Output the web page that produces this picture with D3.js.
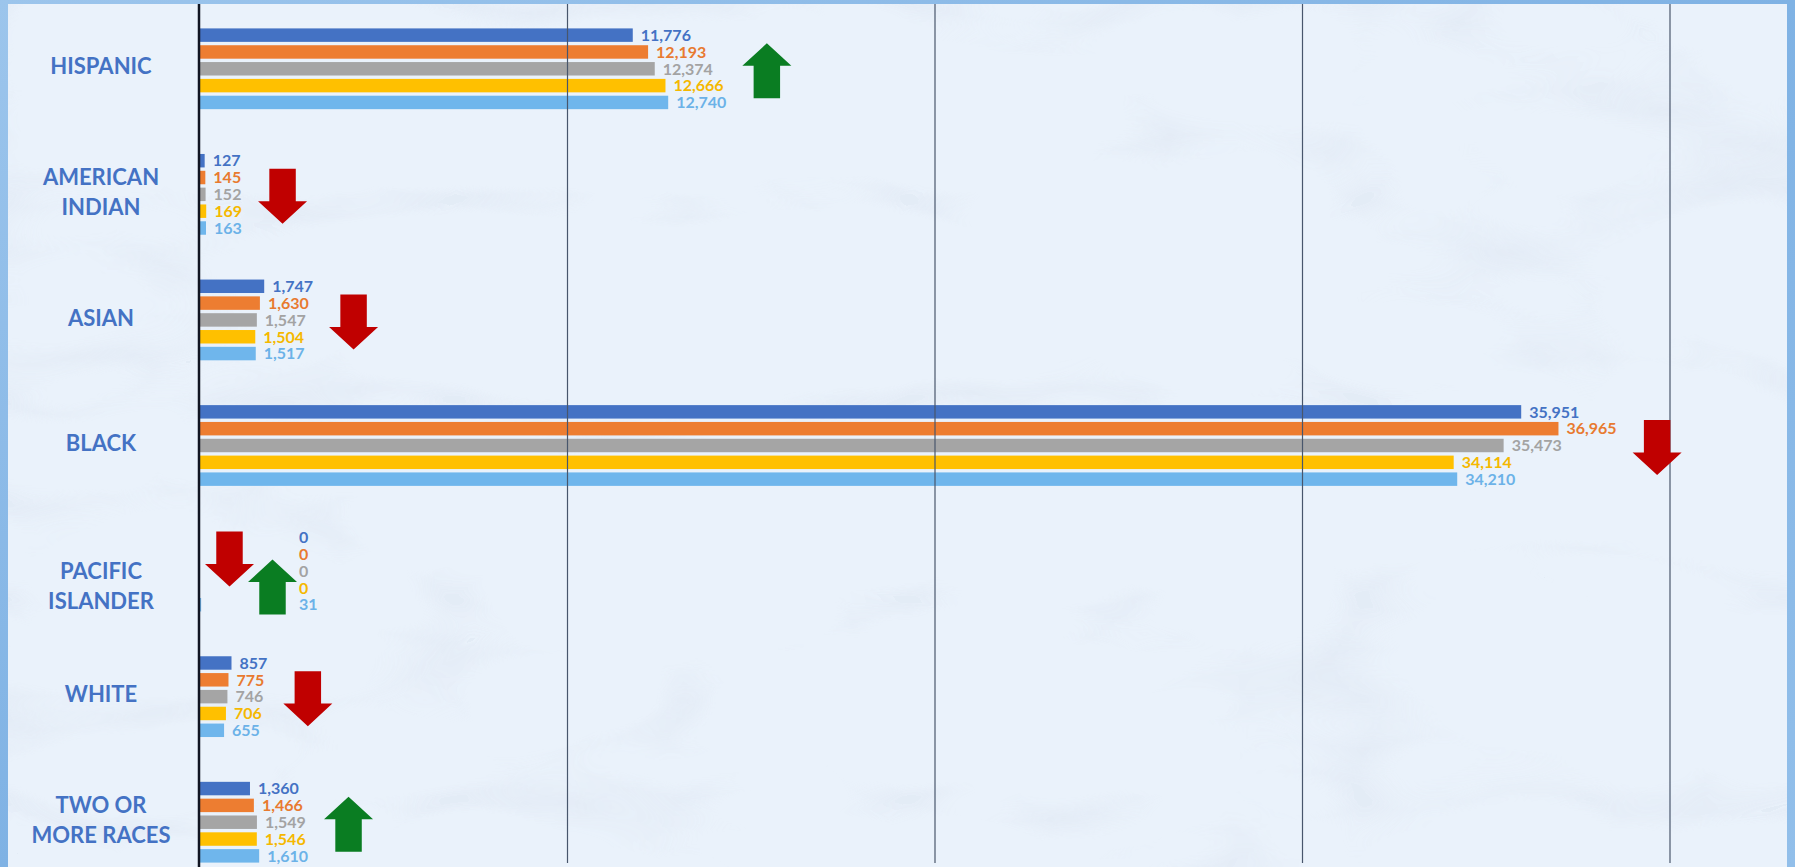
<!DOCTYPE html>
<html>
<head>
<meta charset="utf-8">
<script src="https://cdn.jsdelivr.net/npm/d3@7"></script>
<style>
  html, body { margin: 0; padding: 0; background: #88b8e8; overflow: hidden; }
  svg { display: block; }
</style>
</head>
<body>
<div id="chart"></div>
<script>
// categories, one per group of bars ("\n" splits the label onto two lines)
const categories = ["HISPANIC", "AMERICAN\nINDIAN", "ASIAN", "BLACK", "PACIFIC\nISLANDER", "WHITE", "TWO OR\nMORE RACES"];

// five series (one per year, oldest first)
const series1 = [11776, 127, 1747, 35951, 0, 857, 1360];
const series2 = [12193, 145, 1630, 36965, 0, 775, 1466];
const series3 = [12374, 152, 1547, 35473, 0, 746, 1549];
const series4 = [12666, 169, 1504, 34114, 0, 706, 1546];
const series5 = [12740, 163, 1517, 34210, 31, 655, 1610];

// trend arrow(s) shown next to each group
const trends = [["up"], ["down"], ["down"], ["down"], ["down", "up"], ["down"], ["up"]];

// vertical grid lines
const gridTicks = [10000, 20000, 30000, 40000];

const seriesList = [series1, series2, series3, series4, series5];
const barColors = ["#4472c4", "#ed7d31", "#a5a5a5", "#ffc000", "#6fb6ec"];
const labelColors = ["#4472c4", "#e87a30", "#a3a3a3", "#f5b800", "#6cb2e8"];

const width = 1795, height = 867;

const svg = d3.select("#chart")
  .append("svg")
  .attr("width", width)
  .attr("height", height);

// background: blue frame with a pale marbled panel
const defs = svg.append("defs");
const marble = defs.append("filter")
  .attr("id", "marble")
  .attr("x", 0).attr("y", 0).attr("width", "100%").attr("height", "100%");
marble.append("feTurbulence")
  .attr("type", "turbulence")
  .attr("baseFrequency", "0.0022 0.005")
  .attr("numOctaves", 3)
  .attr("seed", 5)
  .attr("result", "noise");
marble.append("feColorMatrix")
  .attr("in", "noise")
  .attr("type", "matrix")
  .attr("values", "0 0 0 0 0.70  0 0 0 0 0.76  0 0 0 0 0.86  -2.2 0 0 0 0.45");

const frame = defs.append("linearGradient").attr("id", "frame")
  .attr("x1", 0).attr("y1", 0).attr("x2", 1).attr("y2", 1);
frame.append("stop").attr("offset", "0%").attr("stop-color", "#9cc5ec");
frame.append("stop").attr("offset", "50%").attr("stop-color", "#7fb2e4");
frame.append("stop").attr("offset", "100%").attr("stop-color", "#92bfea");

svg.append("rect").attr("width", width).attr("height", height).attr("fill", "url(#frame)");

const panel = { x: 8, y: 4, w: 1779, h: 870 };
svg.append("rect")
  .attr("x", panel.x).attr("y", panel.y)
  .attr("width", panel.w).attr("height", panel.h)
  .attr("fill", "#eaf2fb");
svg.append("rect")
  .attr("x", panel.x).attr("y", panel.y)
  .attr("width", panel.w).attr("height", panel.h)
  .attr("filter", "url(#marble)")
  .attr("opacity", 0.85);

// scales
const x = d3.scaleLinear()
  .domain([0, 40000])
  .range([200, 1670]);

const y0 = d3.scaleBand()
  .domain(d3.range(categories.length))
  .range([6, 885])
  .paddingInner(0.33)
  .paddingOuter(0.165);

const y1 = d3.scaleBand()
  .domain(d3.range(seriesList.length))
  .range([0, y0.bandwidth()])
  .paddingInner(0.2)
  .paddingOuter(0.1);

const groupCenter = i => y0(i) + y0.bandwidth() / 2;

// bars
const groups = svg.append("g").selectAll("g.group")
  .data(categories.map((c, i) => ({ cat: c, i: i, values: seriesList.map(s => s[i]) })))
  .enter()
  .append("g")
  .attr("class", "group")
  .attr("transform", d => "translate(0," + y0(d.i) + ")");

groups.selectAll("rect")
  .data(d => d.values)
  .enter()
  .append("rect")
  .attr("x", x(0))
  .attr("y", (v, j) => y1(j))
  .attr("width", v => x(v) - x(0))
  .attr("height", y1.bandwidth())
  .attr("fill", (v, j) => barColors[j]);

// grid lines sit on top of the bars
svg.append("g").selectAll("line")
  .data(gridTicks)
  .enter()
  .append("line")
  .attr("x1", d => x(d)).attr("x2", d => x(d))
  .attr("y1", panel.y).attr("y2", 863)
  .attr("stroke", "#48566c")
  .attr("stroke-width", 1.2);

// category axis line
svg.append("line")
  .attr("x1", x(0) - 1).attr("x2", x(0) - 1)
  .attr("y1", panel.y).attr("y2", height)
  .attr("stroke", "#111522")
  .attr("stroke-width", 2.5);

// category labels: centred between the group centre and its non-zero bars
function labelCenter(i) {
  const idx = seriesList.map((s, j) => s[i] > 0 ? j : -1).filter(j => j >= 0);
  const lo = y0(i) + y1(idx[0]), hi = y0(i) + y1(idx[idx.length - 1]) + y1.bandwidth();
  return (groupCenter(i) + (lo + hi) / 2) / 2 - 2;
}

const catLabels = svg.append("g").selectAll("text")
  .data(categories)
  .enter()
  .append("text")
  .attr("x", 101)
  .attr("y", (d, i) => labelCenter(i))
  .attr("text-anchor", "middle")
  .style("font-family", "Lato, 'Open Sans', sans-serif")
  .style("font-weight", 700)
  .style("font-size", "22px")
  .style("fill", "#4472c4");

catLabels.each(function (d) {
  const lines = d.split("\n");
  const t = d3.select(this);
  lines.forEach((ln, k) => {
    t.append("tspan")
      .attr("x", 101)
      .attr("dy", k === 0 ? ((0.35 - (lines.length - 1) * 0.68) + "em") : "1.36em")
      .text(ln);
  });
});

// arrows
function arrowPath(dir, ax, ay, w, h) {
  const sl = ax + w * 0.23, sr = ax + w * 0.77;
  if (dir === "down") {
    const hb = ay + h * 0.59;
    return `M${sl},${ay} L${sr},${ay} L${sr},${hb} L${ax + w},${hb} L${ax + w / 2},${ay + h} L${ax},${hb} L${sl},${hb} Z`;
  }
  const hb = ay + h * 0.41;
  return `M${ax + w / 2},${ay} L${ax + w},${hb} L${sr},${hb} L${sr},${ay + h} L${sl},${ay + h} L${sl},${hb} L${ax},${hb} Z`;
}
const arrowW = 49, arrowH = 55;
const arrowColor = { up: "#0a7d22", down: "#c00000" };

// value labels + arrows, group by group
const valueLayer = svg.append("g");
const arrowLayer = svg.append("g");

categories.forEach((c, i) => {
  const vals = seriesList.map(s => s[i]);
  const gc = groupCenter(i);
  const tr = trends[i];
  let labelStart = null;

  if (tr.length > 1) {
    // two arrows go first, labels after them
    tr.forEach((dir, k) => {
      const ax = x(0) + 5 + k * 43;
      const ay = gc + (k === 0 ? -12 : 16) - arrowH / 2;
      arrowLayer.append("path")
        .attr("d", arrowPath(dir, ax, ay, arrowW, arrowH))
        .attr("fill", arrowColor[dir]);
    });
    labelStart = x(0) + 5 + (tr.length - 1) * 43 + arrowW + 2;
  }

  let maxEnd = 0;
  vals.forEach((v, j) => {
    const lx = labelStart !== null ? labelStart : x(v) + 8;
    const t = valueLayer.append("text")
      .attr("x", lx)
      .attr("y", y0(i) + y1(j) + y1.bandwidth() / 2)
      .attr("dy", "0.36em")
      .style("font-family", "Lato, 'Open Sans', sans-serif")
      .style("font-weight", 700)
      .style("font-size", "16px")
      .style("fill", labelColors[j])
      .text(d3.format(",")(v));
    maxEnd = Math.max(maxEnd, lx + t.node().getComputedTextLength());
  });

  if (tr.length === 1) {
    const dir = tr[0];
    arrowLayer.append("path")
      .attr("d", arrowPath(dir, maxEnd + 16, gc + 2 - arrowH / 2, arrowW, arrowH))
      .attr("fill", arrowColor[dir]);
  }
});
</script>
</body>
</html>
